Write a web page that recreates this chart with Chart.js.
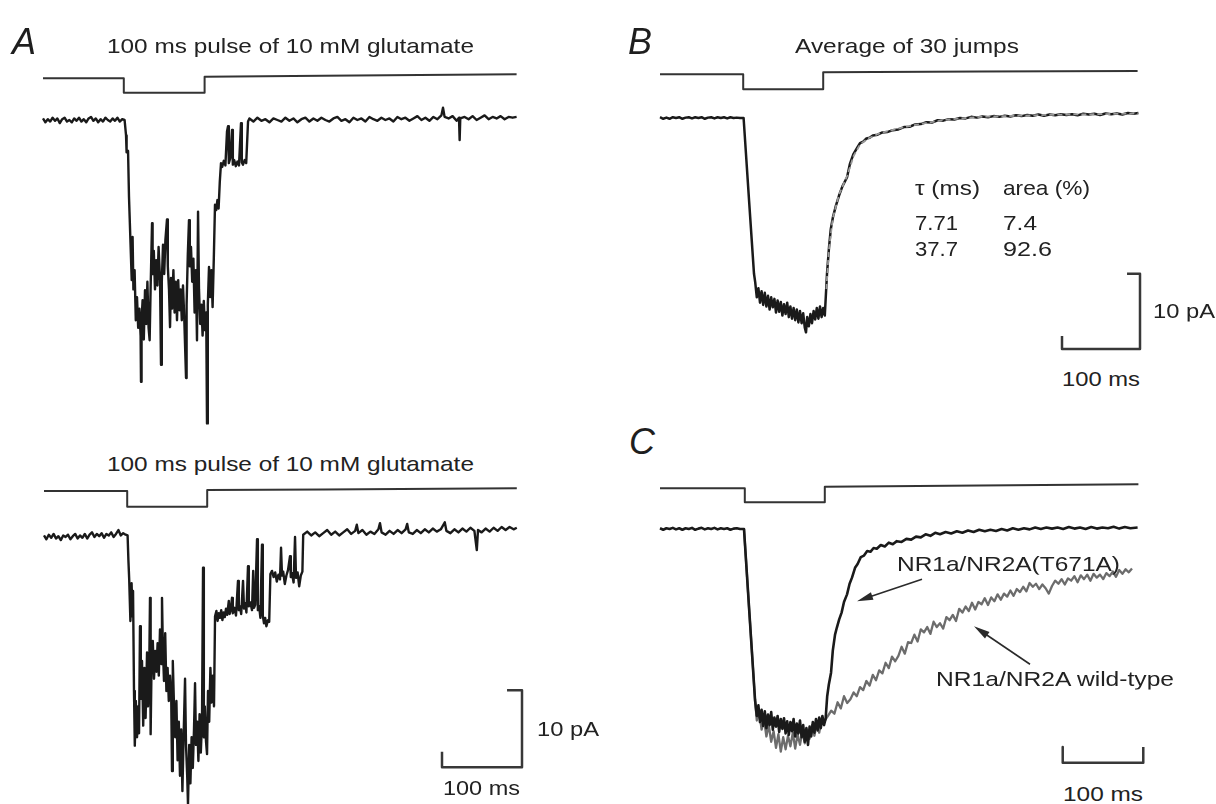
<!DOCTYPE html>
<html>
<head>
<meta charset="utf-8">
<script src="https://cdn.jsdelivr.net/npm/chart.js@4.4.1/dist/chart.umd.min.js"></script>
<style>
  html, body { margin: 0; padding: 0; background: #fff; }
  body { width: 1216px; height: 804px; position: relative; overflow: hidden; }
  canvas { position: absolute; }
  .lbl { position: absolute; font-family: "Liberation Sans", Arial, sans-serif; font-size: 21px;
         color: #222; white-space: nowrap; line-height: 1; transform-origin: 0 50%; transform: translateY(-50%); }
  .letter { position: absolute; font-family: "Liberation Sans", Arial, sans-serif; font-style: italic;
            font-size: 36px; color: #1e1e1e; line-height: 1; transform: translateY(-50%); }
</style>
</head>
<body>
<canvas id="aTop"></canvas>
<canvas id="aBottom"></canvas>
<canvas id="bAvg"></canvas>
<canvas id="cCompare"></canvas>

<div class="letter" style="left:12px;top:42px">A</div>
<div class="letter" style="left:628px;top:42px">B</div>
<div class="letter" style="left:629px;top:442px">C</div>

<div class="lbl" style="left:107px;top:45px" data-w="367">100 ms pulse of 10 mM glutamate</div>
<div class="lbl" style="left:107px;top:463px" data-w="367">100 ms pulse of 10 mM glutamate</div>
<div class="lbl" style="left:795px;top:45px" data-w="224">Average of 30 jumps</div>

<div class="lbl" style="left:915px;top:187px" data-w="65">τ (ms)</div>
<div class="lbl" style="left:1003px;top:187px" data-w="87">area (%)</div>
<div class="lbl" style="left:915px;top:222px" data-w="43">7.71</div>
<div class="lbl" style="left:1003px;top:222px" data-w="34">7.4</div>
<div class="lbl" style="left:915px;top:248px" data-w="43">37.7</div>
<div class="lbl" style="left:1003px;top:248px" data-w="49">92.6</div>

<div class="lbl" style="left:1153px;top:310px" data-w="62">10 pA</div>
<div class="lbl" style="left:1062px;top:378px" data-w="78">100 ms</div>
<div class="lbl" style="left:537px;top:728px" data-w="62">10 pA</div>
<div class="lbl" style="left:443px;top:787px" data-w="77">100 ms</div>
<div class="lbl" style="left:1063px;top:793px" data-w="80">100 ms</div>

<div class="lbl" style="left:897px;top:563px" data-w="223">NR1a/NR2A(T671A)</div>
<div class="lbl" style="left:936px;top:678px" data-w="238">NR1a/NR2A wild-type</div>

<script>
// time in ms, current in pA, pulse in units of one full step (negative = down)

let aTopPulse = [[0,0],[101,0],[101,-1],[202,-1],[202,0.11],[350,0.18],[592,0.28]];
let aBottomPulse = [[0,0],[104,0],[104,-1],[204,-1],[204,0.06],[350,0.1],[591,0.17]];
let bPulse = [[0,0],[104,0],[104,-1],[204,-1],[204,0.13],[400,0.18],[597,0.22]];
let cPulse = [[0,0],[106,0],[106,-1],[206,-1],[206,0.11],[400,0.2],[598,0.29]];

//! panel A, first single-channel sweep
let aTopCurrent = [
  [0,0.2],[3,-0.3],[6,0.1],[9,-0.2],[12,0.3],[15,-0.1],[18,0.2],[21,-0.4],[24,0.1],[27,0.3],[30,-0.2],[33,0.0],
  [36,-0.3],[39,0.2],[42,-0.1],[45,0.3],[48,-0.2],[51,0.1],[54,-0.3],[57,0.2],[60,0.4],[63,-0.1],[66,0.2],[69,-0.3],
  [72,0.1],[75,-0.2],[78,0.3],[81,0.0],[84,-0.2],[87,0.2],[90,-0.1],[93,0.3],[96,-0.2],[99,0.1],[102,0.0],
  [103.8,-2.0],[104.5,-4.2],[106.3,-4.0],[107.5,-10],[110.9,-20.8],[112,-15.2],[113,-22],[114.5,-19.5],[116,-26],
  [117.5,-23],[119,-27],[120.5,-24.5],[122,-28],[122.5,-34.0],[123.2,-26],[124.5,-23.4],[126,-28.5],[127.5,-22.1],
  [129,-26.5],[130.5,-21],[132,-27],[133.3,-28.6],[134.5,-22],[136.3,-13.4],[137,-20],[138.5,-17],[140,-22],
  [141.5,-18.2],[143,-21.5],[144.5,-16.5],[146.3,-20.8],[147.5,-31.8],[148.5,-21],[150,-16.2],[151.5,-20],[153,-15.6],
  [155,-12.9],[156,-19],[157.5,-22],[158.8,-26.9],[160,-20.5],[161.3,-24.5],[163,-19.5],[164.5,-25],[166,-21],
  [167.5,-26],[169,-20.8],[170.5,-24.7],[172,-22],[173.5,-26],[175,-21.5],[176.5,-25.5],[178.8,-33.5],[179.5,-24],
  [181,-17.5],[182.5,-13.0],[183.5,-19],[185,-16.5],[186.5,-21],[188,-18],[189.5,-25],[191,-19.5],[192.5,-28.6],
  [193.8,-11.9],[195,-22],[196.5,-26.5],[198,-24],[199.5,-28],[201,-23.5],[202.5,-27.3],[204,-25],[205,-39.4],
  [206,-24],[207.5,-19.1],[209,-23],[210.5,-19.5],[212,-24.3],[213.5,-18],[215,-11.0],[216.5,-11.7],[218,-10.4],
  [219.5,-11.5],[221,-8],[222.5,-5.6],[224,-6.1],[226,-5.3],[228,-5.9],[230,-1.5],[231.3,-0.8],[232.3,-5.6],
  [234,-5.0],[236.3,-1.3],[237.3,-5.8],[239,-5.2],[241,-6.0],[243,-5.4],[245,-5.9],[247.5,-0.4],[248.5,-5.5],
  [250,-5.8],[252,-5.2],[254,-5.6],[256.3,-0.2],
  [258,0.2],[263,-0.2],[268,0.3],[273,-0.1],[278,0.1],[283,-0.3],[288,0.2],[293,0.0],[298,-0.2],[303,0.3],
  [308,-0.1],[313,0.2],[318,-0.3],[323,0.1],[328,0.3],[333,-0.2],[338,0.2],[343,-0.1],[348,0.3],[353,0.0],
  [358,-0.2],[363,0.2],[368,0.4],[373,-0.1],[378,0.1],[383,-0.3],[388,0.3],[393,0.0],[398,0.2],[403,-0.2],
  [408,0.4],[413,0.1],[418,-0.1],[423,0.3],[428,0.0],[433,0.2],[438,-0.2],[443,0.4],[448,0.1],[453,0.3],
  [458,-0.1],[463,0.2],[468,0.5],[473,0.0],[478,0.3],[483,-0.1],[488,0.4],[493,0.1],[498,0.6],[500,1.6],
  [502,0.4],[507,0.2],[512,0.5],[517,-0.1],[520,0.3],[520.8,-2.6],[521.6,0.2],[527,0.4],[532,0.1],[537,0.5],
  [542,0.0],[547,0.3],[552,0.6],[557,0.1],[562,0.4],[567,0.2],[572,0.5],[577,0.1],[582,0.4],[587,0.3],[592,0.4]
];

//! panel A, second sweep
let aBottomCurrent = [
  [0,0.2],[3,-0.3],[6,0.3],[9,-0.1],[12,0.4],[15,-0.2],[18,0.1],[21,-0.4],[24,0.2],[27,0.0],[30,0.3],[33,-0.3],
  [36,0.1],[39,0.4],[42,-0.2],[45,0.2],[48,-0.1],[51,0.4],[54,-0.2],[57,0.3],[60,0.6],[63,0.0],[66,0.4],[69,0.1],
  [72,0.5],[75,-0.1],[78,0.4],[81,0.2],[84,0.6],[87,0.0],[90,0.4],[93,0.9],[96,0.2],[99,0.5],[102,0.3],[104.5,0.2],
  [105.5,-3],[106.5,-5.5],[108,-10.9],[109.5,-6],[110.5,-10.3],[111.3,-7],[112.5,-20],[113.5,-27.1],[114.8,-21.3],
  [116.3,-26],[117.5,-22],[118.8,-25.5],[120,-11.6],[121,-21],[122.5,-16.1],[124,-24.5],[125.5,-17],[127,-23.5],
  [128.8,-15],[130,-22],[131.5,-17.5],[132.5,-7.9],[133.3,-25.6],[134.5,-16],[136,-13.5],[137.5,-18.4],[139,-14.8],
  [140.5,-17.5],[142,-13.8],[143.5,-18],[145,-12],[146.5,-16.5],[147.5,-7.9],[148.5,-14],[150,-18.7],[151.5,-12.5],
  [153,-20],[154.5,-17],[156,-21.3],[157.5,-18],[159,-20.5],[160,-30.4],[161,-16.1],[162.5,-22],[164,-26],
  [165.5,-21.3],[167,-29],[168.5,-24],[170,-31],[171.5,-25],[173,-33],[174.5,-26],[176.3,-18.4],[177.5,-27],
  [179,-31],[180,-34.7],[181.5,-27],[183,-32],[184.5,-26],[186,-30],[187.5,-25],[188.8,-19.0],[190,-27],
  [191.5,-24],[193,-29.1],[194.5,-23],[196,-28],[197.5,-24],[198.8,-4.0],[199.8,-26],[201,-22],[202.5,-26.5],
  [203.8,-28.2],[205,-20],[206.5,-24],[208,-17],[209.5,-21.5],[211,-18],[212.5,-22],
  [213.8,-10.3],[215.5,-9.6],[217,-10.9],[218.5,-9.9],[220,-10.5],[221.5,-9.5],[223,-10.8],[224.5,-9.8],
  [226,-10.4],[227.5,-9.3],[229,-10.1],[231,-8.3],[232,-10.0],[233.5,-9.4],[235,-7.9],[236,-9.9],[238,-9.2],
  [240,-10.2],[242.5,-5.7],[243.5,-9.5],[245,-9.0],[246.5,-10],[248.8,-5.7],[250,-9.3],[251.5,-8.6],[253,-9.8],
  [255,-3.8],[256,-9.0],[258,-8.5],[260,-9.5],[261.5,-4.4],[262.5,-9.2],[264,-8.8],[266.3,-0.3],[267.3,-9.5],
  [269,-9.0],[270.5,-10.5],[272.5,-1.0],[273.5,-10.2],[275,-11.2],[276.5,-10.5],[278,-11.6],[280,-10.8],[281.5,-11.0],
  [283,-4.8],[285,-4.4],[287,-5.2],[289,-4.6],[291,-5.8],[293,-4.9],[295,-5.5],[296.3,-1.4],[297.5,-5.0],
  [299,-4.5],[301,-6.1],[303,-5.0],[305,-4.3],[307.5,-2.5],[308.5,-5.2],[310,-4.7],[312,-5.9],[313.8,0],
  [315,-5.3],[317,-4.6],[319,-6.4],[321,-5.0],[323,-4.5],
  [324,0.3],[329,0.7],[334,0.2],[339,0.6],[344,0.1],[349,0.5],[354,0.9],[359,0.3],[364,0.7],[369,0.2],
  [374,0.6],[379,1.0],[384,0.4],[389,0.8],[391,1.6],[393,0.5],[398,0.9],[403,0.3],[408,0.7],[413,0.4],
  [418,1.0],[420,1.8],[422,0.6],[427,0.3],[432,0.8],[437,0.4],[442,0.9],[447,0.5],[452,1.0],[454,1.7],
  [456,0.6],[461,0.4],[466,0.9],[471,0.5],[476,1.0],[481,0.6],[486,1.1],[491,0.7],[496,1.0],[501,1.9],
  [503,0.8],[508,0.5],[513,1.0],[518,0.6],[523,1.1],[528,0.7],[533,1.2],[538,0.8],[541,-1.7],[542.5,0.9],
  [547,0.6],[552,1.1],[557,0.7],[562,1.2],[567,0.8],[572,1.3],[577,0.9],[582,1.3],[587,1.0],[591,1.2]
];

//! panel B, average of 30 sweeps and its two-exponential fit
let bCurrent = [
  [0,0.1],[4,-0.1],[8,0.05],[12,-0.1],[16,0.1],[20,0.0],[24,0.1],[28,-0.1],[32,0.05],[36,0.1],[40,-0.05],
  [44,0.1],[48,0.0],[52,0.1],[56,-0.1],[60,0.05],[64,0.1],[68,-0.05],[72,0.1],[76,0.0],[80,0.1],[84,-0.05],
  [88,0.1],[92,0.0],[96,0.05],[100,0.0],[104.5,0.0],[111.3,-10.8],[117.5,-20.5],
  [119,-21.6],[121,-23.6],[123,-22.4],[125,-24.3],[127,-22.8],[129,-24.6],[131,-23.0],[133,-24.8],[135,-23.4],
  [137,-25.2],[139,-23.6],[141,-24.9],[143,-23.8],[145,-25.6],[147,-24.0],[149,-25.5],[151,-24.2],[153,-26.0],
  [155,-24.5],[157,-25.8],[159,-24.3],[161,-26.2],[163,-24.8],[165,-26.4],[167,-25.0],[169,-26.6],[171,-25.2],
  [173,-26.9],[175,-25.4],[177,-27.0],[179,-25.7],[181,-27.6],[182.5,-28.2],[184,-26.2],[186,-27.4],[188,-25.8],
  [190,-27.0],[192,-25.4],[194,-26.5],[196,-25.0],[198,-26.4],[200,-24.8],[202,-26.2],[204,-25.0],[206,-26.0],
  [208.8,-20.4],[211.3,-17.0],[213.5,-14.6],[216.3,-13.0],[220,-11.5],[223.8,-10.2],[228,-9.0],[233.8,-7.8],
  [237.5,-6.0],[241.6,-4.8],[246,-4.0],[250,-3.3],[254,-3.1],[258,-2.7],[262,-2.6],[266,-2.3],[272,-2.2],
  [278,-1.9],[284,-1.85],[291,-1.6],[298,-1.5],[305,-1.2],[312,-1.15],[319,-0.85],[326,-0.8],[333,-0.55],
  [340,-0.6],[347,-0.3],[354,-0.35],[361,-0.15],[368,-0.2],[375,0.0],[382,-0.05],[389,0.15],[396,0.05],
  [403,0.2],[410,0.1],[417,0.25],[424,0.15],[431,0.3],[438,0.2],[445,0.35],[452,0.25],[459,0.4],[466,0.3],
  [473,0.45],[480,0.3],[487,0.45],[494,0.35],[501,0.5],[508,0.4],[515,0.5],[522,0.35],[529,0.55],[536,0.45],
  [543,0.55],[550,0.4],[557,0.6],[564,0.5],[571,0.6],[578,0.45],[585,0.65],[592,0.55],[598,0.65]
];
let bFit = [
  [208,-22.5],[211,-17.5],[216,-13.2],[224,-10.0],[234,-7.6],[242,-5.0],[250,-3.5],[260,-2.7],[275,-2.0],
  [290,-1.6],[310,-1.1],[330,-0.7],[360,-0.2],[400,0.15],[450,0.3],[500,0.45],[550,0.5],[598,0.6]
];

//! panel C, mutant (black) against wild-type (grey)
let cMutant = [
  [0,0.1],[4,-0.1],[8,0.1],[12,0.0],[16,0.15],[20,-0.05],[24,0.1],[28,-0.1],[32,0.1],[36,0.0],[40,0.15],
  [44,-0.1],[48,0.05],[52,0.15],[56,-0.05],[60,0.1],[64,0.0],[68,0.15],[72,-0.05],[76,0.1],[80,0.0],[84,0.1],
  [88,-0.1],[92,0.05],[96,0.1],[100,0.0],[105,0.0],[111.9,-11.3],[118.8,-22.5],
  [121,-24.6],[123,-23.2],[125,-25.4],[127,-23.8],[129,-25.9],[131,-24.0],[133,-26.2],[135,-24.4],[137,-25.8],
  [139,-24.1],[141,-26.4],[143,-24.8],[145,-26.0],[147,-24.6],[149,-26.7],[151,-25.0],[153,-26.3],[155,-24.9],
  [157,-26.9],[159,-25.3],[161,-27.1],[163,-25.4],[165,-26.6],[167,-25.0],[169,-27.3],[171,-25.6],[173,-26.9],
  [175,-25.2],[177,-27.4],[179,-25.8],[181,-28.0],[183,-26.2],[185,-28.4],[187,-26.0],[189,-27.3],[191,-25.4],
  [193,-26.8],[195,-25.0],[197,-26.5],[199,-24.8],[201,-26.2],[203,-24.6],[205,-25.8],[207,-25.0],
  [209,-22.0],[211,-20.5],[213.8,-18.9],[216,-16.0],[218.8,-13.9],[221,-13.0],[224,-11.9],[227,-11.0],[230,-9.6],
  [233.8,-8.6],[237,-7.2],[240,-6.4],[243.8,-5.1],[247,-4.6],[251,-3.7],[255,-3.5],[259,-2.9],[263,-3.0],
  [267,-2.5],[271,-2.6],[276,-2.1],[281,-2.3],[286,-1.8],[291,-2.0],[296,-1.6],[302,-1.7],[308,-1.3],[314,-1.4],
  [320,-1.0],[326,-1.1],[332,-0.7],[338,-0.9],[344,-0.5],[350,-0.7],[357,-0.4],[364,-0.6],[371,-0.3],[378,-0.5],
  [385,-0.2],[392,-0.4],[399,-0.1],[406,-0.3],[413,-0.1],[420,-0.25],[427,0.0],[434,-0.2],[441,0.1],[448,-0.1],
  [455,0.1],[462,-0.05],[469,0.2],[476,0.0],[483,0.2],[490,0.05],[497,0.2],[504,0.0],[511,0.25],[518,0.05],
  [525,0.2],[532,0.0],[539,0.25],[546,0.05],[553,0.2],[560,0.1],[567,0.3],[574,0.05],[581,0.25],[588,0.1],[597,0.2]
];
let cWildType = [
  [105,0.0],[111.9,-11.3],[118.8,-22.5],
  [121,-25.2],[124,-24.0],[127,-26.4],[130,-25.0],[133,-27.3],[136,-25.8],[139,-28.0],[142,-26.6],[145,-28.8],
  [148,-27.0],[151,-29.3],[154,-27.4],[157,-29.0],[160,-27.2],[163,-28.6],[166,-26.8],[169,-28.9],[172,-27.0],
  [175,-28.4],[178,-26.6],[181,-28.2],[184,-26.4],[187,-27.6],[190,-25.8],[193,-27.2],[196,-25.6],[199,-26.8],
  [202,-25.0],[206,-25.2],[210,-24.6],[214,-23.9],[218,-24.3],[222,-22.8],[226,-23.6],[230,-22.0],[234,-22.9],
  [238,-22.4],[242,-21.5],[246,-22.0],[250,-20.8],[254,-21.2],[258,-20.0],[262,-20.6],[266,-19.2],[270,-19.9],
  [274,-18.6],[278,-19.0],[282,-17.6],[286,-18.3],[290,-16.8],[294,-17.4],[298,-16.7],[302,-15.5],[306,-16.4],
  [310,-14.9],[314,-15.0],[318,-13.9],[322,-14.8],[326,-13.2],[330,-13.6],[334,-12.9],[338,-13.8],[342,-12.2],
  [346,-12.9],[350,-12.4],[354,-13.1],[358,-11.6],[362,-12.0],[366,-11.3],[370,-12.1],[374,-10.5],[378,-11.0],
  [382,-10.2],[386,-10.8],[390,-9.7],[394,-10.6],[398,-9.6],[402,-9.9],[406,-9.1],[410,-10.0],[414,-9.0],
  [418,-9.5],[422,-8.6],[426,-9.3],[430,-8.5],[434,-8.9],[438,-8.1],[442,-8.8],[446,-7.9],[450,-8.3],[454,-7.6],
  [458,-8.2],[462,-7.1],[466,-7.6],[470,-7.2],[474,-7.9],[478,-7.3],[482,-7.8],[486,-8.5],[490,-7.5],[494,-6.8],
  [498,-7.2],[502,-6.6],[506,-7.3],[510,-6.5],[514,-6.8],[518,-6.2],[522,-7.0],[526,-6.1],[530,-6.6],[534,-6.0],
  [538,-6.8],[542,-5.9],[546,-6.4],[550,-6.0],[554,-6.6],[558,-5.8],[562,-6.2],[566,-5.6],[570,-6.3],[574,-5.4],
  [578,-5.9],[582,-5.3],[586,-5.7],[590,-5.2]
];

//! calibration bars: 100 ms horizontal, 10 pA vertical
let aScaleBar = [[578.8,-19.9],[597.5,-19.9],[597.5,-29.9],[497.5,-29.9],[497.5,-27.9]];
let bScaleBar = [[583.8,-20.5],[600,-20.5],[600,-30.4],[502.5,-30.4],[502.5,-28.7]];
let cScaleBar = [[503.4,-28.7],[503.4,-30.75],[604.1,-30.75],[604.1,-28.7]];

let cArrows = [
  { from: [327.5,-6.6], to: [246.3,-9.5] },
  { from: [462.5,-17.8], to: [392.5,-12.8] }
];

// where each panel sits on the page, and how many pixels one ms / pA / pulse step take
let panels = {
  aTop:     { box: {left:0,   top:55,  w:560, h:390}, map: {x0:43,  kx:0.8, y0:120, ky:7.7, p0:78.3,  kp:14.4} },
  aBottom:  { box: {left:0,   top:475, w:610, h:329}, map: {x0:44,  kx:0.8, y0:537, ky:7.7, p0:491,   kp:15.7} },
  bAvg:     { box: {left:620, top:55,  w:596, h:310}, map: {x0:660, kx:0.8, y0:118, ky:7.6, p0:74.3,  kp:15} },
  cCompare: { box: {left:620, top:470, w:596, h:310}, map: {x0:660, kx:0.8, y0:529, ky:7.6, p0:488.3, kp:14} }
};

function scalesFor(box, m) {
  return {
    x: { type: "linear", display: false, min: (box.left - m.x0) / m.kx, max: (box.left + box.w - m.x0) / m.kx },
    y: { type: "linear", display: false, min: (m.y0 - box.top - box.h) / m.ky, max: (m.y0 - box.top) / m.ky },
    p: { type: "linear", display: false, min: (m.p0 - box.top - box.h) / m.kp, max: (m.p0 - box.top) / m.kp }
  };
}

// Chart.js paints the first dataset last (on top), so lists below go top layer first
function trace(pairs, axis, color, width, dash) {
  return {
    data: pairs.map((p) => ({ x: p[0], y: p[1] })),
    yAxisID: axis,
    borderColor: color,
    borderWidth: width,
    borderDash: dash || [],
    borderJoinStyle: "round",
    pointRadius: 0,
    tension: 0,
    fill: false
  };
}

let arrowPlugin = {
  id: "arrows",
  afterDatasetsDraw(chart, args, opts) {
    let ctx = chart.ctx, sx = chart.scales.x, sy = chart.scales.y;
    (opts.list || []).forEach((a) => {
      let x1 = sx.getPixelForValue(a.from[0]), y1 = sy.getPixelForValue(a.from[1]);
      let x2 = sx.getPixelForValue(a.to[0]), y2 = sy.getPixelForValue(a.to[1]);
      let ang = Math.atan2(y2 - y1, x2 - x1), len = 16, half = 4;
      ctx.save();
      ctx.strokeStyle = "#2a2a2a";
      ctx.fillStyle = "#2a2a2a";
      ctx.lineWidth = 1.6;
      ctx.beginPath();
      ctx.moveTo(x1, y1);
      ctx.lineTo(x2 - Math.cos(ang) * len * 0.8, y2 - Math.sin(ang) * len * 0.8);
      ctx.stroke();
      ctx.beginPath();
      ctx.moveTo(x2, y2);
      ctx.lineTo(x2 - Math.cos(ang) * len - Math.sin(ang) * half, y2 - Math.sin(ang) * len + Math.cos(ang) * half);
      ctx.lineTo(x2 - Math.cos(ang) * len + Math.sin(ang) * half, y2 - Math.sin(ang) * len - Math.cos(ang) * half);
      ctx.closePath();
      ctx.fill();
      ctx.restore();
    });
  }
};

function drawPanel(id, datasets, arrows) {
  let pn = panels[id];
  let cv = document.getElementById(id);
  cv.width = pn.box.w;
  cv.height = pn.box.h;
  cv.style.left = pn.box.left + "px";
  cv.style.top = pn.box.top + "px";
  return new Chart(cv.getContext("2d"), {
    type: "line",
    data: { datasets: datasets },
    options: {
      responsive: false,
      animation: false,
      devicePixelRatio: 1,
      layout: { padding: 0, autoPadding: false },
      scales: scalesFor(pn.box, pn.map),
      plugins: { legend: { display: false }, tooltip: { enabled: false }, arrows: { list: arrows || [] } }
    },
    plugins: [arrowPlugin]
  });
}

let ink = "#1a1a1a";
let barInk = "#383838";

drawPanel("aTop", [
  trace(aTopPulse, "p", "#333", 2),
  trace(aTopCurrent, "y", ink, 2.4)
]);

drawPanel("aBottom", [
  trace(aBottomPulse, "p", "#333", 2),
  trace(aBottomCurrent, "y", ink, 2.4),
  trace(aScaleBar, "y", barInk, 2.5)
]);

drawPanel("bAvg", [
  trace(bPulse, "p", "#333", 2),
  trace(bFit, "y", "#9a9a9a", 1.8, [5, 3]),
  trace(bCurrent, "y", ink, 2.5),
  trace(bScaleBar, "y", barInk, 2.5)
]);

drawPanel("cCompare", [
  trace(cPulse, "p", "#333", 2),
  trace(cMutant, "y", ink, 2.6),
  trace(cWildType, "y", "#6c6c6c", 2.3),
  trace(cScaleBar, "y", barInk, 2.5)
], cArrows);

// stretch labels to the widths they have in the figure
document.querySelectorAll(".lbl").forEach((el) => {
  let target = parseFloat(el.dataset.w);
  let w = el.getBoundingClientRect().width;
  if (target && w) el.style.transform = "translateY(-50%) scaleX(" + (target / w).toFixed(3) + ")";
});
</script>
</body>
</html>
